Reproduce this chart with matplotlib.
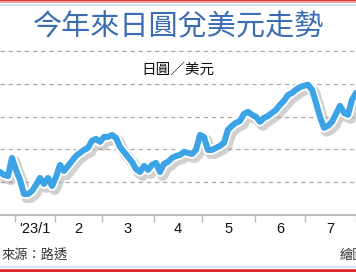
import matplotlib
matplotlib.use('Agg')
import matplotlib.pyplot as plt
import matplotlib.patheffects as pe
from matplotlib.lines import Line2D

plt.rcParams['font.family'] = ['Noto Sans CJK TC', 'DejaVu Sans']

# USD/JPY, roughly one sample every ~2 trading days, late Dec 2022 -> early Aug 2023
jpy = [131.56, 131.10, 130.95, 133.70, 131.87, 130.34, 128.20, 128.20, 128.66, 129.58,
       130.65, 129.73, 130.65, 129.43, 130.80, 132.63, 131.72, 132.48, 133.24, 134.00,
       134.47, 134.92, 135.23, 136.30, 136.60, 136.15, 136.90, 136.90, 137.20, 136.76,
       135.38, 134.62, 133.85, 133.10, 132.00, 131.56, 132.48, 131.87, 132.63, 132.94,
       131.56, 132.80, 133.10, 133.70, 134.00, 134.16, 134.62, 134.47, 134.30, 134.92,
       137.20, 136.90, 134.92, 134.92, 135.23, 135.53, 136.00, 138.00, 138.60, 139.05,
       139.35, 140.42, 140.73, 140.27, 139.96, 139.20, 139.80, 140.10, 140.57, 141.03,
       141.80, 142.40, 143.30, 143.60, 144.10, 144.50, 144.70, 144.85, 144.10, 142.10,
       139.96, 138.30, 138.60, 139.20, 140.42, 141.64, 140.57, 140.27, 142.56, 143.60]
# month boundaries in sample units and labels between them
month_edges = [3.75, 13.75, 25.5, 38.5, 50.5, 63.75, 76.25, 89]
month_labels = ["'23/1", '2', '3', '4', '5', '6', '7']
grid_levels = [130, 135, 140, 145, 150]

fig = plt.figure(figsize=(3.56, 2.72), dpi=100)
ax = fig.add_axes([0, (272-215)/272, 1, (215-51)/272])

x = list(range(len(jpy)))
ax.plot(x, jpy, color='#3ba3e6', lw=4.4, solid_capstyle='round', solid_joinstyle='round',
        path_effects=[pe.SimpleLineShadow(offset=(2, -2.5), shadow_color='#999999', alpha=0.45, linewidth=8),
                      pe.Stroke(linewidth=7.0, foreground='white'),
                      pe.Normal()], zorder=3)

for g in grid_levels:
    ax.axhline(g, color='#aaaaaa', lw=0.9, ls=(0, (3.5, 3)), zorder=1, clip_on=False)

ax.set_xlim(0, 89)
ax.set_ylim(125, 150)
for s in ['top', 'right', 'left']:
    ax.spines[s].set_visible(False)
ax.spines['bottom'].set_color('#bbbbbb')
ax.spines['bottom'].set_linewidth(1.4)
ax.set_yticks([])
ax.set_xticks(month_edges)
ax.set_xticklabels([])
ax.tick_params(axis='x', length=5, width=1, color='#bbbbbb', direction='out')
for i, lab in enumerate(month_labels):
    ax.text((month_edges[i] + month_edges[i+1]) / 2, -0.04, lab, transform=ax.get_xaxis_transform(),
            ha='center', va='top', fontsize=10.5, family=['Liberation Sans', 'DejaVu Sans'], color='#111111')

fig.text(0.5, 1 - 27/272, '今年來日圓兌美元走勢', ha='center', va='center', fontsize=21, color='#3c6db3')
fig.text(0.5, 1 - 70/272, '日圓／美元', ha='center', va='center', fontsize=10.5, color='#111111')
fig.text(0.003, 1 - 256/272, '來源：路透', ha='left', va='center', fontsize=9.5, color='#333333')
fig.text(0.955, 1 - 256/272, '繪圖', ha='left', va='center', fontsize=9.5, color='#333333')

# top and bottom border strips
for yy, c, w in [(0.5, '#e0262b', 2.0), (2.2, '#f3b7b9', 1.2), (4.5, '#cfe0f0', 1.3),
                 (266.5, '#cfe0f0', 1.3), (270.5, '#e0262b', 2.6)]:
    fig.add_artist(Line2D([0, 1], [1 - yy/272, 1 - yy/272], color=c, lw=w, transform=fig.transFigure))

fig.savefig('out.png', dpi=100)
